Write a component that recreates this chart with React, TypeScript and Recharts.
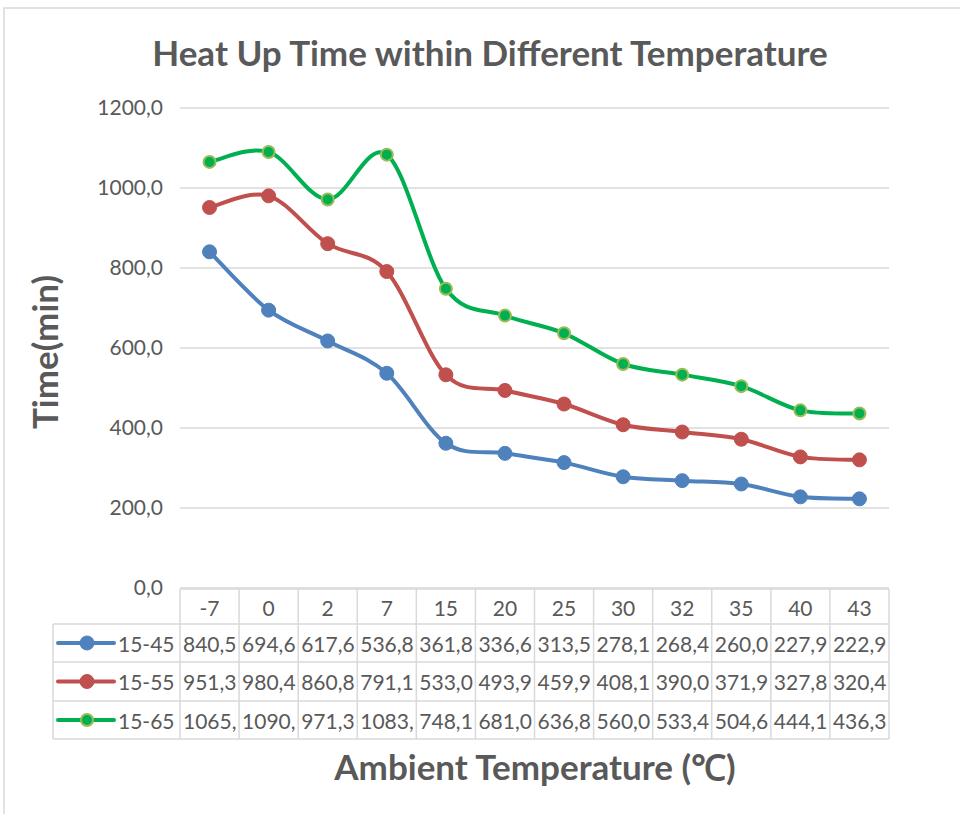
import React from 'react';
import { LineChart, Line, XAxis, YAxis, CartesianGrid, Customized } from 'recharts';

const categories = ['-7', '0', '2', '7', '15', '20', '25', '30', '32', '35', '40', '43'];
const seriesNames = ['15-45', '15-55', '15-65'];
const s1545 = [840.5, 694.6, 617.6, 536.8, 361.8, 336.6, 313.5, 278.1, 268.4, 260.0, 227.9, 222.9];
const s1555 = [951.3, 980.4, 860.8, 791.1, 533.0, 493.9, 459.9, 408.1, 390.0, 371.9, 327.8, 320.4];
const s1565 = [1065.2, 1090.1, 971.3, 1083.4, 748.1, 681.0, 636.8, 560.0, 533.4, 504.6, 444.1, 436.3];
const yTicks = [0, 200, 400, 600, 800, 1000, 1200];

const title = 'Heat Up Time within Different Temperature';
const xTitle = 'Ambient Temperature (\u2103)';
const yTitle = 'Time(min)';

const data = categories.map((c, i) => ({ cat: c, a: s1545[i], b: s1555[i], c: s1565[i] }));
const seriesValues = [s1545, s1555, s1565];
const seriesKeys = ['a', 'b', 'c'];
const colors = ['#4F81BD', '#C0504D', '#00B050'];
const markerStrokes = ['#4F81BD', '#C0504D', '#9BBB59'];

// layout
const W = 960;
const H = 814;
const PL = 180;
const PR = 889;
const PT = 108;
const PB = 588;
const COLW = (PR - PL) / categories.length;
const FONT = "Lato, 'Open Sans', sans-serif";
const TXT = '#595959';
const GRID = '#d9d9d9';
const TAB_TOP = 589;
const ROW_LINES = [624, 662, 701, 739];
const ROW_BASE = [652, 690, 729];
const LEG_L = 53;
const CELL_CHARS = 5;

const fmt = (v: number) => v.toFixed(1).replace('.', ',');
// data-table cells hide characters that do not fit (like the spreadsheet does)
const cellText = (v: number) => fmt(v).slice(0, CELL_CHARS);

// Excel-like smoothing (Catmull-Rom as cubic Bezier)
const excelCurve = (context: any) => {
  let pts: number[][] = [];
  return {
    areaStart() {},
    areaEnd() {},
    lineStart() { pts = []; },
    point(x: number, y: number) { pts.push([+x, +y]); },
    lineEnd() {
      const n = pts.length;
      if (!n) return;
      context.moveTo(pts[0][0], pts[0][1]);
      for (let i = 0; i < n - 1; i++) {
        const p0 = pts[i - 1] || pts[i];
        const p1 = pts[i];
        const p2 = pts[i + 1];
        const p3 = pts[i + 2] || pts[i + 1];
        context.bezierCurveTo(
          p1[0] + (p2[0] - p0[0]) / 6, p1[1] + (p2[1] - p0[1]) / 6,
          p2[0] - (p3[0] - p1[0]) / 6, p2[1] - (p3[1] - p1[1]) / 6,
          p2[0], p2[1]
        );
      }
    },
  };
};

const TableTick = (props: any) => {
  const { x, payload } = props;
  const i = payload && payload.index != null ? payload.index : props.index;
  const left = x - COLW / 2;
  const right = x + COLW / 2;
  return (
    <g>
      {i === 0 && <line x1={left} x2={left} y1={TAB_TOP} y2={ROW_LINES[3]} stroke={GRID} strokeWidth={1.5} />}
      <line x1={right} x2={right} y1={TAB_TOP} y2={ROW_LINES[3]} stroke={GRID} strokeWidth={1.5} />
      <text x={x} y={616} textAnchor="middle" fill={TXT} fontSize={21} fontFamily={FONT}>
        {payload.value}
      </text>
      {seriesValues.map((vals, r) => (
        <text key={r} x={left + 3} y={ROW_BASE[r]} textAnchor="start" fill={TXT} fontSize={21} fontFamily={FONT}>
          {cellText(vals[i])}
        </text>
      ))}
    </g>
  );
};

const Decor = () => (
  <g>
    <rect x={4} y={8} width={W + 10} height={H + 10} fill="none" stroke={GRID} strokeWidth={1.5} />
    <text x={490} y={66} textAnchor="middle" fill={TXT} fontSize={35} fontWeight={700} fontFamily={FONT}>
      {title}
    </text>
    <text
      x={0}
      y={0}
      transform={`translate(58, 352) rotate(-90)`}
      textAnchor="middle"
      fill={TXT}
      fontSize={35}
      fontWeight={700}
      fontFamily={FONT}
    >
      {yTitle}
    </text>
    <text x={535} y={780} textAnchor="middle" fill={TXT} fontSize={35} fontWeight={700} fontFamily={FONT}>
      {xTitle}
    </text>
    {/* table horizontal lines */}
    <line x1={PL} x2={PR} y1={TAB_TOP} y2={TAB_TOP} stroke={GRID} strokeWidth={1.5} />
    {ROW_LINES.map((y, k) => (
      <line key={k} x1={LEG_L} x2={PR} y1={y} y2={y} stroke={GRID} strokeWidth={1.5} />
    ))}
    <line x1={LEG_L} x2={LEG_L} y1={ROW_LINES[0]} y2={ROW_LINES[3]} stroke={GRID} strokeWidth={1.5} />
    {/* legend keys */}
    {seriesNames.map((name, r) => {
      const cy = (ROW_LINES[r] + ROW_LINES[r + 1]) / 2;
      return (
        <g key={name}>
          <line x1={58} x2={114} y1={cy} y2={cy} stroke={colors[r]} strokeWidth={4} strokeLinecap="round" />
          <circle cx={87} cy={cy} r={r === 2 ? 6 : 7} fill={colors[r]} stroke={markerStrokes[r]} strokeWidth={r === 2 ? 2 : 1} />
          <text x={118} y={ROW_BASE[r]} fill={TXT} fontSize={21} fontFamily={FONT}>
            {name}
          </text>
        </g>
      );
    })}
  </g>
);

export default function App() {
  return (
    <div style={{ position: 'absolute', left: 0, top: 0, width: W, height: H, background: '#fff' }}>
      <LineChart width={W} height={H} data={data} margin={{ top: PT, right: W - PR, left: 0, bottom: 0 }}>
        <Customized component={Decor} />
        <CartesianGrid horizontal vertical={false} stroke={GRID} strokeWidth={1.5} />
        <YAxis
          type="number"
          domain={[0, 1200]}
          ticks={yTicks}
          width={PL}
          axisLine={false}
          tickLine={false}
          tickSize={0}
          tickMargin={17}
          tickFormatter={(v: number) => fmt(v)}
          tick={{ fill: TXT, fontSize: 21, fontFamily: FONT }}
        />
        <XAxis
          dataKey="cat"
          type="category"
          height={H - PB}
          padding={{ left: COLW / 2, right: COLW / 2 }}
          axisLine={false}
          tickLine={false}
          tickSize={0}
          tickMargin={0}
          interval={0}
          tick={<TableTick />}
        />
        {seriesKeys.map((k, r) => (
          <Line
            key={k}
            dataKey={k}
            name={seriesNames[r]}
            type={excelCurve as any}
            stroke={colors[r]}
            strokeWidth={4}
            dot={{ r: r === 2 ? 6 : 7, fill: colors[r], stroke: markerStrokes[r], strokeWidth: r === 2 ? 2 : 1 }}
            isAnimationActive={false}
          />
        ))}
      </LineChart>
    </div>
  );
}
